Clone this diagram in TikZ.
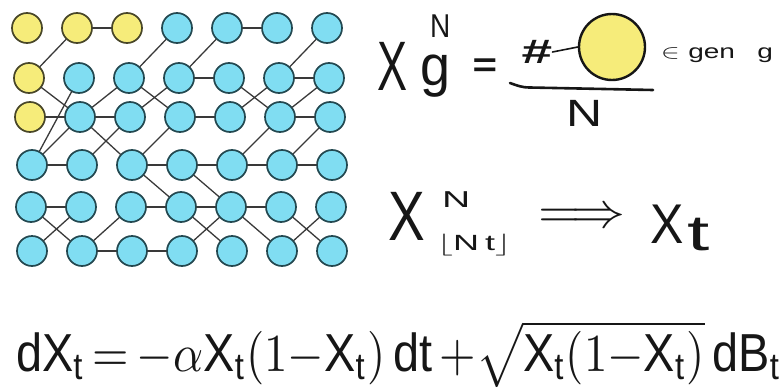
\documentclass[tikz,border=0pt]{standalone}
\usepackage{fontspec}
\setmainfont{Liberation Sans}
\usepackage{graphicx}
\definecolor{indblue}{RGB}{128,221,242}
\definecolor{indyellow}{RGB}{246,236,122}
\definecolor{bluering}{RGB}{35,72,80}
\definecolor{yellowring}{RGB}{72,70,40}
\definecolor{ink}{RGB}{22,22,22}
\tikzset{
  ind/.style={circle,draw=bluering,fill=indblue,line width=1.7pt,minimum size=30pt,inner sep=0pt},
  mut/.style={ind,draw=yellowring,fill=indyellow},
  lnk/.style={line width=1.3pt,draw=ink!85},
  hw/.style={inner sep=0pt,text=ink},
  bar/.style={line width=2.6pt,draw=ink,line cap=round}
}

\begin{document}
\begin{tikzpicture}[x=1pt,y=-1pt,line cap=round,line join=round]
  \useasboundingbox (0,0) rectangle (781,388);
  % 左：个体网格
  \foreach \r/\y/\dx in {1/28/0,2/78/2,3/117/3,4/165/5,5/207/4,6/251/5} {
    \foreach \c in {1,...,7} {
      \pgfmathtruncatemacro\isold{(\r==1 && \c<4) || (\c==1 && \r<4)}
      \ifnum\isold=1 \def\kind{mut}\else\def\kind{ind}\fi
      \node[\kind] (n\r\c) at ({27+50*(\c-1)+\dx},\y) {};
    }
  }
  % 同代连线
  \foreach \a/\b in {12/13,15/16,24/25,26/27,31/32,32/33,34/35,36/37,
                     41/42,43/44,44/45,45/46,46/47,51/52,53/54,54/55,55/56,62/63,63/64}
    \draw[lnk] (n\a) -- (n\b);
  % 代际连线
  \foreach \a/\b in {12/21,14/23,15/24,17/26,21/32,23/32,23/34,24/33,25/36,26/35,27/36,
                     22/41,32/41,33/42,32/43,34/43,36/45,37/46,43/54,44/55,
                     51/62,52/61,53/62,54/65,55/64,55/66,56/67,57/66}
    \draw[lnk] (n\a) -- (n\b);
  % 右上：频率
  \node[hw,anchor=base west] (xg) at (377,90) {\scalebox{4.5}[7]{X}};
  \node[hw,anchor=base west] (xgN) at (430,37) {\scalebox{2.8}[3.3]{N}};
  \node[hw,anchor=base west] (xgg) at (420,85) {\scalebox{5.4}[5.7]{g}};
  \node[hw] (eqa) at (485,68) {\scalebox{4.2}[3.4]{\bfseries =}};
  \node[hw] (hash) at (537,52) {\scalebox{5.5}[3.4]{\bfseries\#}};
  \node[circle,draw=ink,fill=indyellow,line width=2.4pt,minimum size=66pt,inner sep=0pt] (ball) at (612,47) {};
  \draw[line width=1.6pt,draw=ink] (hash.east) -- (ball.west);
  \node[hw,anchor=base west] (gen) at (661,58) {\scalebox{2.8}[2]{$\in$\hspace{3pt}gen\hspace{8pt}g}};
  \draw[bar] (510,83) to[out=-20,in=180] (530,87.5) -- (653,90);
  \node[hw] (den) at (585,113) {\scalebox{5}[3.8]{N}};
  % 右中：极限
  \node[hw,anchor=base west] (xn) at (388,240) {\scalebox{5.5}[7]{X}};
  \node[hw,anchor=base west] (xnN) at (442,207) {\scalebox{3.9}[2.3]{N}};
  \node[hw,anchor=base west] (xnsub) at (437,250) {\scalebox{3.6}[2.2]{$\lfloor$N\,t$\rfloor$}};
  \node[hw] (imp) at (582,218) {\scalebox{5.4}[5]{$\Longrightarrow$}};
  \node[hw,anchor=base west] (xt) at (650,243) {\scalebox{5}[5.6]{X}};
  \node[hw,anchor=base west] (xtt) at (687,250) {\scalebox{8}[5]{t}};
  % 下：扩散方程
  \node[hw,anchor=base west] (sde) at (16,371) {\resizebox{765pt}{50pt}{$\mathrm{dX}_{\mathrm{t}}\,{=}\,{-}\alpha\mathrm{X}_{\mathrm{t}}(1{-}\mathrm{X}_{\mathrm{t}})\,\mathrm{dt}\,{+}\sqrt{\mathrm{X}_{\mathrm{t}}(1{-}\mathrm{X}_{\mathrm{t}})}\,\mathrm{dB}_{\mathrm{t}}$}};
\end{tikzpicture}
\end{document}
